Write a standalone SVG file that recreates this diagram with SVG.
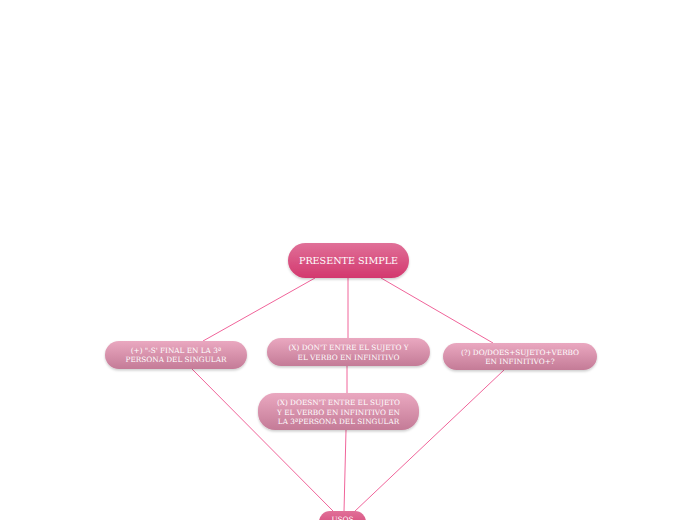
<svg xmlns="http://www.w3.org/2000/svg" width="696" height="520" viewBox="0 0 696 520">
<defs>
<linearGradient id="gMain" x1="0" y1="0" x2="0" y2="1">
<stop offset="0" stop-color="#e07098"/>
<stop offset="1" stop-color="#d3386e"/>
</linearGradient>
<linearGradient id="gSub" x1="0" y1="0" x2="0" y2="1">
<stop offset="0" stop-color="#eaa8c0"/>
<stop offset="1" stop-color="#c47b97"/>
</linearGradient>
<filter id="sh" x="-10%" y="-20%" width="120%" height="150%">
<feDropShadow dx="0" dy="1.5" stdDeviation="1.2" flood-color="#000" flood-opacity="0.2"/>
</filter>
</defs>
<style>
.c{stroke:#f0649a;stroke-width:1;fill:none}
.t{font-family:"DejaVu Serif","Liberation Serif",serif;fill:#fff;text-anchor:middle}
.m{font-size:9.6px}
.s{font-size:7.3px}
</style>
<rect width="696" height="520" fill="#fff"/>
<g id="connectors">
<line class="c" x1="315" y1="278" x2="203" y2="341"/>
<line class="c" x1="348" y1="278" x2="348" y2="338"/>
<line class="c" x1="381" y1="278" x2="493" y2="343"/>
<line class="c" x1="192" y1="369" x2="334" y2="512"/>
<line class="c" x1="347" y1="366" x2="347" y2="393"/>
<line class="c" x1="346" y1="430" x2="344" y2="512"/>
<line class="c" x1="504" y1="370" x2="354" y2="512"/>
</g>
<g id="presente-simple">
<rect x="288" y="243" width="121" height="35" rx="17.5" fill="url(#gMain)" filter="url(#sh)"/>
<text class="t m" x="348.5" y="264">PRESENTE SIMPLE</text>
</g>
<g id="node-s-final">
<rect x="105" y="341" width="142" height="28" rx="14" fill="url(#gSub)" filter="url(#sh)"/>
<text class="t s" x="176" y="352.5">(+) "-S' FINAL EN LA 3ª</text>
<text class="t s" x="176" y="362">PERSONA DEL SINGULAR</text>
</g>
<g id="node-dont">
<rect x="267" y="338" width="163" height="28" rx="14" fill="url(#gSub)" filter="url(#sh)"/>
<text class="t s" x="348.5" y="350">(X) DON'T ENTRE EL SUJETO Y</text>
<text class="t s" x="348.5" y="359.5">EL VERBO EN INFINITIVO</text>
</g>
<g id="node-do-does">
<rect x="443" y="343" width="154" height="27" rx="13.5" fill="url(#gSub)" filter="url(#sh)"/>
<text class="t s" x="520" y="355">(?) DO/DOES+SUJETO+VERBO</text>
<text class="t s" x="520" y="364">EN INFINITIVO+?</text>
</g>
<g id="node-doesnt">
<rect x="258" y="393" width="161" height="37" rx="17" fill="url(#gSub)" filter="url(#sh)"/>
<text class="t s" x="338.5" y="405">(X) DOESN'T ENTRE EL SUJETO</text>
<text class="t s" x="338.5" y="414.5">Y EL VERBO EN INFINITIVO EN</text>
<text class="t s" x="338.5" y="424">LA 3ªPERSONA DEL SINGULAR</text>
</g>
<g id="usos">
<rect x="319" y="511" width="47" height="24" rx="11" fill="url(#gMain)"/>
<text class="t s" x="342.5" y="522">USOS</text>
</g>
</svg>
